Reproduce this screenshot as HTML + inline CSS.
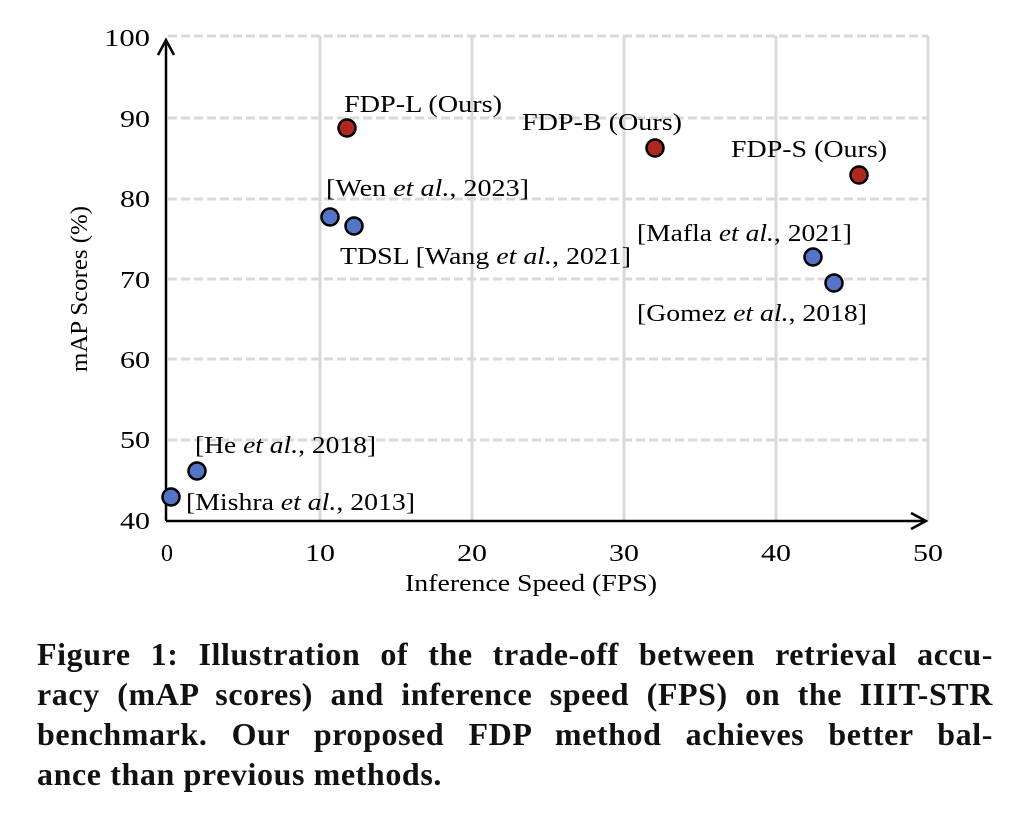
<!DOCTYPE html>
<html><head><meta charset="utf-8"><style>
body{margin:0;background:#fff;width:1020px;height:824px;overflow:hidden}
.cap{position:absolute;left:37px;width:956px;top:634px;font-family:"Liberation Serif",serif;font-weight:bold;font-size:32px;letter-spacing:0.6px;line-height:40px;color:#111}
.cap div{text-align:justify;text-align-last:justify;white-space:nowrap}
.cap div.l{text-align-last:left}
</style></head><body>
<svg width="1020" height="630" style="position:absolute;left:0;top:0" font-family="Liberation Serif, serif">
<g stroke="#d9d9d9" stroke-width="3">
<line x1="320" y1="36" x2="320" y2="520"/><line x1="472" y1="36" x2="472" y2="520"/><line x1="624" y1="36" x2="624" y2="520"/><line x1="776" y1="36" x2="776" y2="520"/><line x1="928" y1="36" x2="928" y2="520"/>
<g stroke-dasharray="9,4">
<line x1="168" y1="36" x2="928" y2="36"/><line x1="168" y1="118" x2="928" y2="118"/><line x1="168" y1="199" x2="928" y2="199"/><line x1="168" y1="279" x2="928" y2="279"/><line x1="168" y1="359" x2="928" y2="359"/><line x1="168" y1="440" x2="928" y2="440"/>
</g></g>
<g stroke="#000" stroke-width="2.5" fill="none">
<line x1="166" y1="521" x2="166" y2="40"/><polyline points="158,55 166,40 174,55"/>
<line x1="166" y1="521" x2="924" y2="521"/><polyline points="911,513 926,521 911,529"/>
</g>
<g font-size="24" fill="#000" text-anchor="end" lengthAdjust="spacingAndGlyphs">
<text x="150" y="46" textLength="46" lengthAdjust="spacingAndGlyphs">100</text><text x="150" y="127" textLength="30" lengthAdjust="spacingAndGlyphs">90</text><text x="150" y="207" textLength="30" lengthAdjust="spacingAndGlyphs">80</text><text x="150" y="288" textLength="30" lengthAdjust="spacingAndGlyphs">70</text><text x="150" y="368" textLength="30" lengthAdjust="spacingAndGlyphs">60</text><text x="150" y="448" textLength="30" lengthAdjust="spacingAndGlyphs">50</text><text x="150" y="529" textLength="30" lengthAdjust="spacingAndGlyphs">40</text>
</g>
<g font-size="24" fill="#000">
<text x="161" y="561">0</text><text x="305" y="561" textLength="30" lengthAdjust="spacingAndGlyphs">10</text><text x="457" y="561" textLength="30" lengthAdjust="spacingAndGlyphs">20</text><text x="609" y="561" textLength="30" lengthAdjust="spacingAndGlyphs">30</text><text x="761" y="561" textLength="30" lengthAdjust="spacingAndGlyphs">40</text><text x="913" y="561" textLength="30" lengthAdjust="spacingAndGlyphs">50</text>
<text x="405" y="591" textLength="252" lengthAdjust="spacingAndGlyphs">Inference Speed (FPS)</text>
<text transform="translate(87,372) rotate(-90)" textLength="166" lengthAdjust="spacingAndGlyphs">mAP Scores (%)</text>
</g>
<g stroke="#000" stroke-width="2.5">
<g fill="#b0281d"><circle cx="347" cy="128" r="8.5"/><circle cx="655" cy="148" r="8.5"/><circle cx="859" cy="175" r="8.5"/></g>
<g fill="#5574c8"><circle cx="330" cy="217" r="8.5"/><circle cx="354" cy="226" r="8.5"/><circle cx="813" cy="257" r="8.5"/><circle cx="834" cy="283" r="8.5"/><circle cx="197" cy="471" r="8.5"/><circle cx="171" cy="497" r="8.5"/></g>
</g>
<g font-size="24" fill="#000">
<text x="344" y="112" textLength="158" lengthAdjust="spacingAndGlyphs">FDP-L (Ours)</text>
<text x="522" y="130" textLength="160" lengthAdjust="spacingAndGlyphs">FDP-B (Ours)</text>
<text x="731" y="157" textLength="156" lengthAdjust="spacingAndGlyphs">FDP-S (Ours)</text>
<text x="326" y="196" textLength="203" lengthAdjust="spacingAndGlyphs">[Wen <tspan font-style="italic">et al.</tspan>, 2023]</text>
<text x="340" y="264" textLength="291" lengthAdjust="spacingAndGlyphs">TDSL [Wang <tspan font-style="italic">et al.</tspan>, 2021]</text>
<text x="637" y="241" textLength="215" lengthAdjust="spacingAndGlyphs">[Mafla <tspan font-style="italic">et al.</tspan>, 2021]</text>
<text x="637" y="321" textLength="230" lengthAdjust="spacingAndGlyphs">[Gomez <tspan font-style="italic">et al.</tspan>, 2018]</text>
<text x="195" y="453" textLength="181" lengthAdjust="spacingAndGlyphs">[He <tspan font-style="italic">et al.</tspan>, 2018]</text>
<text x="186" y="510" textLength="229" lengthAdjust="spacingAndGlyphs">[Mishra <tspan font-style="italic">et al.</tspan>, 2013]</text>
</g>
</svg>
<div class="cap">
<div>Figure 1: Illustration of the trade-off between retrieval accu-</div>
<div>racy (mAP scores) and inference speed (FPS) on the IIIT-STR</div>
<div>benchmark. Our proposed FDP method achieves better bal-</div>
<div class="l">ance than previous methods.</div>
</div>
</body></html>
